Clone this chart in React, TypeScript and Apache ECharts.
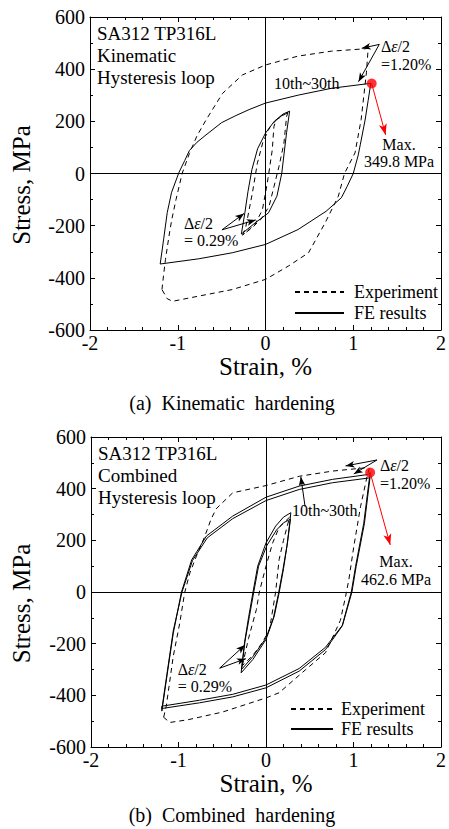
import React, { useEffect, useRef } from 'react';
import * as echarts from 'echarts';

const serif = "'Liberation Serif', 'Times New Roman', serif";

// Axis ranges / ticks
const STRAIN_MIN = -2;
const STRAIN_MAX = 2;
const STRAIN_STEP = 1;
const STRESS_MIN = -600;
const STRESS_MAX = 600;
const STRESS_STEP = 200;

// ---------- (a) Kinematic hardening ----------
const kinExpLarge: [number, number][] = [
  [-1.18, -445], [-1.16, -385], [-1.14, -330], [-1.10, -240], [-1.07, -180], [-1.02, -100], [-0.95, 0],
  [-0.867, 77], [-0.78, 145], [-0.678, 205], [-0.49, 307], [-0.263, 378], [0, 416], [0.37, 450],
  [0.75, 469], [1.13, 478], [1.17, 480],
  [1.15, 386], [1.09, 207], [1.02, 79], [0.9, 0], [0.83, -87], [0.68, -189], [0.49, -304], [0.26, -355],
  [0, -406], [-0.38, -445], [-0.76, -470], [-1.06, -490], [-1.12, -480], [-1.18, -445],
];
const kinFeLarge: [number, number][] = [
  [-1.20, -347], [-1.16, -250], [-1.12, -150], [-1.07, -72], [-0.985, 5], [-0.92, 50], [-0.867, 88],
  [-0.78, 120], [-0.678, 148], [-0.5, 195], [-0.338, 222], [-0.187, 245], [0, 270], [0.38, 301],
  [0.757, 327], [1.135, 343], [1.20, 346],
  [1.17, 280], [1.135, 205], [1.08, 110], [1.057, 71], [1.0, 0], [0.93, -50], [0.865, -93], [0.69, -145],
  [0.37, -215], [0, -272], [-0.38, -304], [-0.76, -327], [-1.20, -347],
];
const kinFeSmall: [number, number][] = [
  [-0.275, -232], [-0.235, -150], [-0.2, -70], [-0.155, 15], [-0.09, 95], [0, 155], [0.1, 200], [0.2, 228], [0.275, 239],
  [0.24, 156], [0.185, 0], [0.13, -87], [0.034, -151], [-0.117, -189], [-0.2, -212], [-0.275, -232],
];
const kinExpSmall: [number, number][] = [
  [-0.26, -236], [-0.224, -204], [-0.15, -76], [-0.093, 39], [-0.03, 120], [0.05, 178], [0.15, 215], [0.255, 234],
  [0.24, 218], [0.21, 116], [0.153, 26], [0.096, -51], [0.04, -127], [-0.05, -175], [-0.15, -207], [-0.26, -236],
];
const kinExpSmall2: [number, number][] = [
  [0.255, 234], [0.12, 205], [0.096, 180], [0.077, 90], [0.02, -38], [-0.036, -140], [-0.12, -195], [-0.26, -236],
];
const kinPeak: [number, number] = [1.21, 345];

// ---------- (b) Combined hardening ----------
const combExpLarge: [number, number][] = [
  [-1.17, -485], [-1.14, -442], [-1.06, -249], [-0.985, -119], [-0.93, -3], [-0.87, 74], [-0.78, 152],
  [-0.70, 215], [-0.63, 280], [-0.57, 322], [-0.38, 384], [0, 412], [0.38, 448], [0.76, 468], [1.14, 481], [1.18, 478],
  [1.155, 447], [1.08, 330], [1.003, 175], [0.946, 46], [0.909, -18], [0.85, -110], [0.68, -235], [0.455, -300],
  [0.15, -390], [0, -410], [-0.5, -465], [-0.9, -495], [-1.1, -505], [-1.17, -485],
];
const combFeLarge1: [number, number][] = [
  [-1.19, -461], [-1.13, -320], [-1.06, -160], [-0.966, 0], [-0.85, 124], [-0.68, 217], [-0.38, 294], [0, 367],
  [0.38, 410], [0.76, 436], [1.17, 455], [1.19, 462],
  [1.117, 266], [1.023, 98], [0.975, 0], [0.87, -132], [0.68, -223], [0.38, -306], [0, -371], [-0.38, -406],
  [-0.76, -429], [-1.19, -451], [-1.19, -461],
];
const combFeLarge2: [number, number][] = [
  [-1.19, -452], [-1.06, -150], [-0.96, 0], [-0.84, 122], [-0.67, 210], [-0.38, 284], [0, 354], [0.38, 397],
  [0.76, 423], [1.17, 441], [1.19, 447],
  [1.125, 266], [1.03, 98], [0.982, 0], [0.875, -128], [0.68, -214], [0.38, -296], [0, -360], [-0.38, -396],
  [-0.76, -419], [-1.19, -442], [-1.19, -452],
];
const combFeSmall1: [number, number][] = [
  [-0.284, -313], [-0.246, -197], [-0.2, -100], [-0.15, -3], [-0.095, 100], [0, 190], [0.11, 255], [0.2, 290], [0.284, 307],
  [0.245, 190], [0.2, 90], [0.15, -3], [0.094, -94], [0, -184], [-0.15, -261], [-0.284, -313],
];
const combFeSmall2: [number, number][] = [
  [-0.28, -300], [-0.24, -190], [-0.19, -95], [-0.14, 0], [-0.085, 100], [0.01, 180], [0.12, 240], [0.2, 268], [0.28, 282],
  [0.24, 180], [0.19, 80], [0.14, -10], [0.085, -100], [0, -178], [-0.15, -250], [-0.28, -300],
];
const combExpSmall: [number, number][] = [
  [-0.27, -285], [-0.2, -180], [-0.11, -68], [-0.076, 0], [0, 100], [0.076, 190], [0.15, 250], [0.27, 290],
  [0.2, 200], [0.15, 126], [0.11, 0], [0.04, -145], [-0.04, -195], [-0.15, -245], [-0.27, -285],
];
const combPeak: [number, number] = [1.19, 462.6];

// Annotation arrows (data coordinates): [from, to]
const kinArrows: [number, number][][] = [
  [[1.297, 495], [1.097, 480]],
  [[1.297, 495], [1.06, 352]],
  [[-0.496, -216], [-0.244, -153]],
  [[-0.496, -216], [-0.111, -178]],
];
const kinRedArrow: [number, number][] = [[1.21, 345], [1.369, 148]];
const combArrows: [number, number][][] = [
  [[1.268, 511], [0.909, 488]],
  [[1.268, 511], [1.003, 457]],
  [[0.447, 330], [0.398, 446]],
  [[-0.53, -295], [-0.24, -205]],
  [[-0.53, -295], [-0.23, -258]],
];
const combRedArrow: [number, number][] = [[1.19, 462.6], [1.42, 182]];

const legendNames = ['Experiment', 'FE results'];

function xAxes(gi: number) {
  const base = {
    type: 'value', gridIndex: gi, min: STRAIN_MIN, max: STRAIN_MAX, interval: STRAIN_STEP,
    axisLine: { onZero: false, lineStyle: { color: '#000', width: 1 } },
    axisTick: { inside: true, length: 5, lineStyle: { color: '#000', width: 1 } },
    minorTick: { show: true, splitNumber: 5, length: 3, lineStyle: { color: '#000', width: 1 } },
    splitLine: { show: false },
  };
  return [
    {
      ...base, position: 'bottom',
      axisLabel: { fontSize: 20, fontFamily: serif, color: '#000', margin: 3 },
      name: 'Strain, %', nameLocation: 'middle', nameGap: 21,
      nameTextStyle: { fontSize: 25, fontFamily: serif, color: '#000' },
    },
    { ...base, position: 'top', axisLabel: { show: false } },
  ];
}
function yAxes(gi: number) {
  const base = {
    type: 'value', gridIndex: gi, min: STRESS_MIN, max: STRESS_MAX, interval: STRESS_STEP,
    axisLine: { onZero: false, lineStyle: { color: '#000', width: 1 } },
    axisTick: { inside: true, length: 5, lineStyle: { color: '#000', width: 1 } },
    minorTick: { show: true, splitNumber: 2, length: 3, lineStyle: { color: '#000', width: 1 } },
    splitLine: { show: false },
  };
  return [
    { ...base, position: 'left', axisLabel: { fontSize: 20, fontFamily: serif, color: '#000', margin: 5 } },
    { ...base, position: 'right', axisLabel: { show: false } },
  ];
}

function curve(name: string, data: [number, number][], ai: number, dashed: boolean) {
  return {
    type: 'line', name, data, xAxisIndex: ai, yAxisIndex: ai,
    symbol: 'none', showSymbol: false, silent: true, z: 3,
    lineStyle: { color: '#000', width: 1, type: dashed ? [5, 4] : 'solid' },
    itemStyle: { color: '#000' },
  };
}

function marks(ai: number, peak: [number, number], arrows: [number, number][][], red: [number, number][]) {
  const arrowItems = arrows.map(([a, b]) => [
    { coord: a },
    { coord: b, symbol: 'arrow', symbolSize: [5, 9] },
  ]);
  const redItem = [
    { coord: red[0], lineStyle: { color: '#ff0000', width: 1 }, itemStyle: { color: '#ff0000' } },
    { coord: red[1], symbol: 'arrow', symbolSize: [6, 11], lineStyle: { color: '#ff0000', width: 1 }, itemStyle: { color: '#ff0000' } },
  ];
  return {
    type: 'scatter', name: 'peak' + ai, data: [peak], xAxisIndex: ai, yAxisIndex: ai,
    symbolSize: 10, itemStyle: { color: '#ff0000' }, z: 5, silent: true,
    markLine: {
      silent: true, symbol: ['none', 'none'], label: { show: false },
      emphasis: { disabled: true },
      lineStyle: { color: '#000', width: 1, type: 'solid' },
      data: [{ xAxis: 0 }, { yAxis: 0 }, ...arrowItems, redItem],
    },
  };
}

function txt(x: number, y: number, text: string, size: number, extra: any = {}) {
  return {
    type: 'text', x, y, silent: true, rotation: extra.rotation || 0,
    style: {
      text, fontSize: size, fontFamily: serif, fill: '#000',
      align: extra.align || 'left', verticalAlign: extra.va || 'top',
      lineHeight: extra.lh || size,
      rich: extra.rich,
    },
  };
}
const richEps = (size: number, lh: number) => ({
  i: { fontStyle: 'italic', fontSize: size, fontFamily: serif, fill: '#000', lineHeight: lh },
});

const legendBase = {
  orient: 'vertical', itemHeight: 18, padding: 0, selectedMode: false,
  data: legendNames,
  itemStyle: { opacity: 0, color: 'transparent', borderWidth: 0 },
};

const option: any = {
  animation: false,
  backgroundColor: '#fff',
  grid: [
    { left: 90, top: 17, width: 353, height: 313 },
    { left: 91, top: 437, width: 352, height: 310 },
  ],
  xAxis: [...xAxes(0), ...xAxes(1)],
  yAxis: [...yAxes(0), ...yAxes(1)],
  legend: [
    {
      ...legendBase, left: 294, top: 283, itemWidth: 49, itemGap: 3,
      textStyle: { fontSize: 18, fontFamily: serif, color: '#000', padding: [0, 0, 0, 5] },
    },
    {
      ...legendBase, left: 290, top: 700, itemWidth: 42, itemGap: 2,
      textStyle: { fontSize: 18, fontFamily: serif, color: '#000', padding: [0, 0, 0, 3] },
    },
  ],
  series: [
    // (a) uses axes index 0 (bottom/left)
    curve('Experiment', kinExpLarge, 0, true),
    curve('Experiment', kinExpSmall, 0, true),
    curve('Experiment', kinExpSmall2, 0, true),
    curve('FE results', kinFeLarge, 0, false),
    curve('FE results', kinFeSmall, 0, false),
    marks(0, kinPeak, kinArrows, kinRedArrow),
    // (b) uses axes index 2
    curve('Experiment', combExpLarge, 2, true),
    curve('Experiment', combExpSmall, 2, true),
    curve('FE results', combFeLarge1, 2, false),
    curve('FE results', combFeLarge2, 2, false),
    curve('FE results', combFeSmall1, 2, false),
    curve('FE results', combFeSmall2, 2, false),
    marks(2, combPeak, combArrows, combRedArrow),
  ],
  graphic: [
    // (a)
    txt(21.5, 185, 'Stress, MPa', 25, { rotation: Math.PI / 2, align: 'center', va: 'middle' }),
    txt(97, 22, 'SA312 TP316L\nKinematic\nHysteresis loop', 19, { lh: 22.3 }),
    txt(274, 75, '10th~30th', 16),
    txt(381, 37.5, 'Δ{i|ε}/2\n=1.20%', 16, { lh: 18, rich: richEps(16, 18) }),
    txt(399, 135.5, 'Max.\n349.8 MPa', 16, { lh: 17, align: 'center' }),
    txt(184, 214.5, 'Δ{i|ε}/2\n= 0.29%', 16, { lh: 17, rich: richEps(16, 17) }),
    txt(232, 403, '(a)\u00a0\u00a0Kinematic\u00a0\u00a0hardening', 20, { align: 'center', va: 'middle' }),
    // (b)
    txt(21.5, 603.5, 'Stress, MPa', 25, { rotation: Math.PI / 2, align: 'center', va: 'middle' }),
    txt(98, 442, 'SA312 TP316L\nCombined\nHysteresis loop', 19, { lh: 22 }),
    txt(292, 502, '10th~30th', 16),
    txt(380, 456, 'Δ{i|ε}/2\n=1.20%', 16, { lh: 18, rich: richEps(16, 18) }),
    txt(396, 553, 'Max.\n462.6 MPa', 16, { lh: 17.5, align: 'center' }),
    txt(177.7, 660.5, 'Δ{i|ε}/2\n= 0.29%', 16, { lh: 17.5, rich: richEps(16, 17.5) }),
    txt(232, 815, '(b)\u00a0\u00a0Combined\u00a0\u00a0hardening', 20, { align: 'center', va: 'middle' }),
  ],
};

export default function App() {
  const ref = useRef<HTMLDivElement>(null);
  useEffect(() => {
    const chart = echarts.init(ref.current as HTMLDivElement, null, { renderer: 'svg' });
    chart.setOption(option);
    return () => chart.dispose();
  }, []);
  return (
    <div
      ref={ref}
      style={{ position: 'absolute', left: 0, top: 0, width: 449, height: 829, background: '#fff' }}
    />
  );
}
